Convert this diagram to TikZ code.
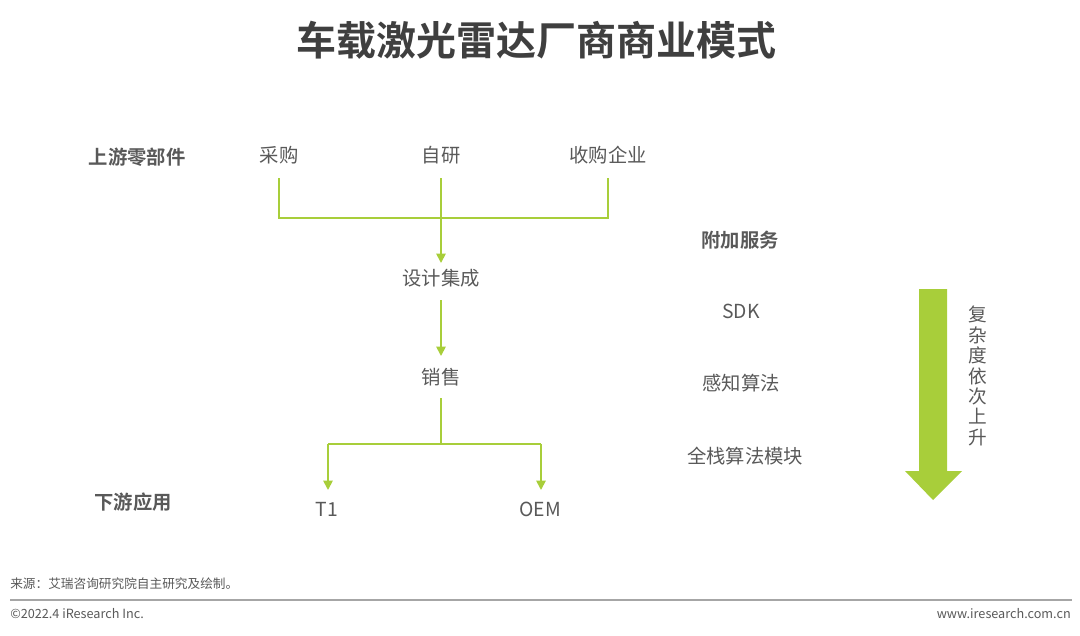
\documentclass[tikz,border=0pt]{standalone}
\usepackage{fontspec}
\setmainfont{Noto Sans CJK SC}
\newfontfamily\cjkb{Noto Sans CJK SC Bold}
\usetikzlibrary{arrows.meta}
\definecolor{lime}{HTML}{A8CE3A}
\definecolor{txt}{HTML}{595959}
\definecolor{ttl}{HTML}{3F3F3F}
\tikzset{
  lbl/.style={text=txt,font=\fontsize{14.5}{16}\selectfont,inner sep=0pt},
  blbl/.style={text=txt,font=\cjkb\fontsize{14.5}{16}\selectfont,inner sep=0pt},
  conn/.style={draw=lime,line width=1.3pt},
  arr/.style={conn,-{Triangle[width=7pt,length=7pt]}},
  foot/.style={text=txt,font=\fontsize{9.5}{11}\selectfont,inner sep=0pt},
}
\begin{document}
\begin{tikzpicture}[x=0.75pt,y=-0.75pt]
\useasboundingbox (0,0) rectangle (1080,635);
\node[text=ttl,font=\cjkb\fontsize{30}{32}\selectfont,inner sep=0pt] (title) at (536,40) {车载激光雷达厂商商业模式};
\node[blbl] (up) at (137,157) {上游零部件};
\node[blbl] (down) at (133,502) {下游应用};
\node[blbl] (svc) at (740,240) {附加服务};
\node[lbl] (cg) at (279,155) {采购};
\node[lbl] (zy) at (441,155) {自研};
\node[lbl] (sg) at (608,155) {收购企业};
\node[lbl] (sj) at (441,278) {设计集成};
\node[lbl] (xs) at (441,377) {销售};
\node[lbl] (t1) at (327,509) {T1};
\node[lbl] (oem) at (540,509) {OEM};
\node[lbl] (sdk) at (741,311) {SDK};
\node[lbl] (gz) at (741,383) {感知算法};
\node[lbl] (qz) at (745,456) {全栈算法模块};
\coordinate (jl) at (279,218);
\coordinate (jr) at (608,218);
\coordinate (jm) at (441,444);
\coordinate (tl) at (328,444);
\coordinate (tr) at (541,444);
\draw[conn] (279,178) -- (jl) -- (jr) -- (608,178);
\draw[arr] (441,178) -- (441,263);
\draw[arr] (441,300) -- (441,356);
\draw[conn] (441,398) -- (jm);
\draw[arr] (tl) -- (328,490);
\draw[arr] (tr) -- (541,490);
\draw[conn] (tl) -- (tr);
\fill[lime] (919,289) -- (947,289) -- (947,471) -- (962,471) -- (933,500) -- (905,471) -- (919,471) -- cycle;
\node[lbl,align=center,font=\fontsize{14}{15.3}\selectfont] (cx) at (978,376) {复\\杂\\度\\依\\次\\上\\升};
\node[foot,anchor=west] (src) at (10,584) {来源：艾瑞咨询研究院自主研究及绘制。};
\draw[gray!70,line width=1pt] (10,600) -- (1072,600);
\node[foot,anchor=west] (copy) at (10,614) {©2022.4 iResearch Inc.};
\node[foot,anchor=east] (web) at (1071,614) {www.iresearch.com.cn};
\end{tikzpicture}
\end{document}
